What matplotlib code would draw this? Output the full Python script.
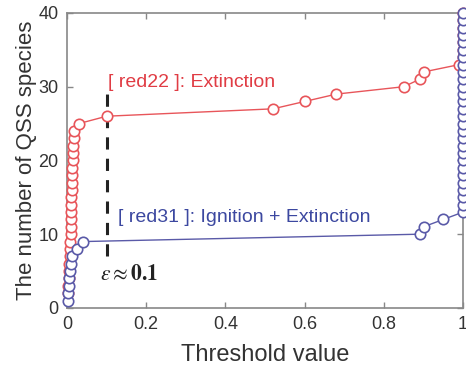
import matplotlib.pyplot as plt

plt.rcParams['font.family'] = ['Liberation Sans', 'DejaVu Sans']
plt.rcParams['mathtext.fontset'] = 'stix'

# red22 mechanism: threshold vs number of QSS species
red22_x = [0.002, 0.003, 0.004, 0.005, 0.006, 0.007, 0.008, 0.008, 0.009, 0.009,
           0.010, 0.010, 0.011, 0.011, 0.012, 0.012, 0.013, 0.013, 0.014, 0.015,
           0.016, 0.017, 0.018, 0.030, 0.10, 0.52, 0.60, 0.68, 0.85, 0.89, 0.90,
           0.99, 1.0, 1.0, 1.0, 1.0, 1.0, 1.0, 1.0]
red22_y = [2, 3, 4, 5, 6, 7, 8, 9, 10, 11, 12, 13, 14, 15, 16, 17, 18, 19, 20,
           21, 22, 23, 24, 25, 26, 27, 28, 29, 30, 31, 32, 33, 34, 35, 36, 37,
           38, 39, 40]

# red31 mechanism
red31_x = [0.002, 0.003, 0.004, 0.006, 0.008, 0.010, 0.012, 0.026, 0.040, 0.89,
           0.90, 0.95] + [1.0] * 28
red31_y = [1, 2, 3, 4, 5, 6, 7, 8, 9, 10, 11, 12] + list(range(13, 41))

eps = 0.1
eps_span = [7, 29.5]

red_c = '#e8555a'
blue_c = '#5a5aa8'

fig = plt.figure(figsize=(4.66, 3.71), dpi=100)
ax = fig.add_axes([0.1438, 0.170, 0.850, 0.795])

ax.plot(red22_x, red22_y, '-o', color=red_c, lw=1.0, ms=7.5, mew=1.2,
        mfc='white', mec=red_c, clip_on=False, zorder=3)
ax.plot(red31_x, red31_y, '-o', color=blue_c, lw=1.0, ms=7.5, mew=1.2,
        mfc='white', mec=blue_c, clip_on=False, zorder=4)
ax.plot([eps, eps], eps_span, '--', color='#222222', lw=2.2, dashes=(4, 3), zorder=2)

ax.text(0.104, 30.6, '[ red22 ]: Extinction', color='#e03c44', fontsize=14, va='center')
ax.text(0.129, 12.3, '[ red31 ]: Ignition + Extinction', color='#3c48a0', fontsize=14,
        va='center')
ax.text(0.083, 4.6, r'$\varepsilon \approx \mathbf{0.1}$', fontsize=15.5, va='center',
        color='#222222')

ax.set_xlim(0, 1)
ax.set_ylim(0, 40)
ax.set_xticks([0, 0.2, 0.4, 0.6, 0.8, 1])
ax.set_xticklabels(['0', '0.2', '0.4', '0.6', '0.8', '1'])
ax.set_yticks([0, 10, 20, 30, 40])
ax.tick_params(direction='in', length=4, width=1, color='#888888',
               labelsize=13, labelcolor='#333333', top=True, right=True, pad=6)
for s in ax.spines.values():
    s.set_color('#888888')
    s.set_linewidth(1.2)

ax.set_xlabel('Threshold value', fontsize=17, color='#333333', labelpad=8)
ax.set_ylabel('The number of QSS species', fontsize=16, color='#333333', labelpad=1)

fig.savefig('out.png', dpi=100)
